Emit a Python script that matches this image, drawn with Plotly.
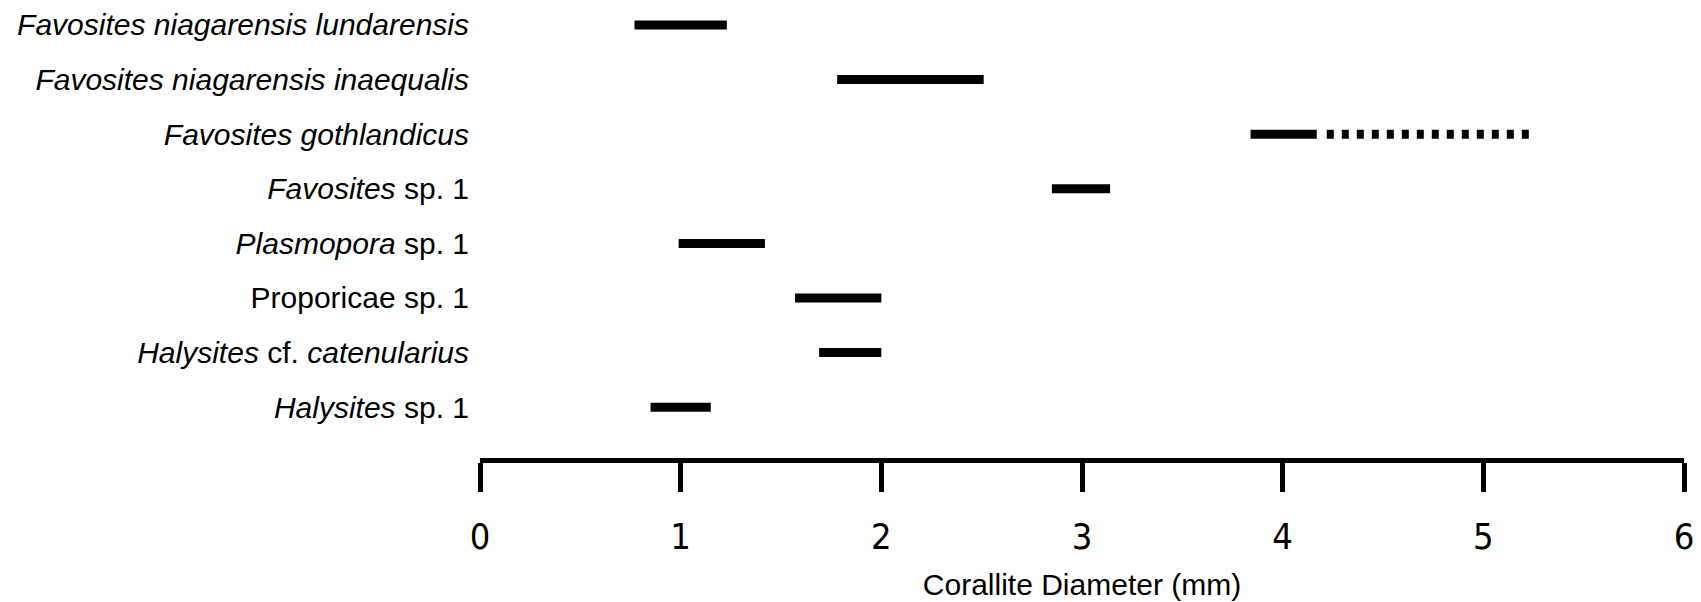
import plotly.graph_objects as go

# ---- data ----
species = [
    "Favosites niagarensis lundarensis",
    "Favosites niagarensis inaequalis",
    "Favosites gothlandicus",
    "Favosites sp. 1",
    "Plasmopora sp. 1",
    "Proporicae sp. 1",
    "Halysites cf. catenularius",
    "Halysites sp. 1",
]
species_labels = [
    "<i>Favosites niagarensis lundarensis</i>",
    "<i>Favosites niagarensis inaequalis</i>",
    "<i>Favosites gothlandicus</i>",
    "<i>Favosites</i> sp. 1",
    "<i>Plasmopora</i> sp. 1",
    "Proporicae sp. 1",
    "<i>Halysites</i> cf. <i>catenularius</i>",
    "<i>Halysites</i> sp. 1",
]
diam_min = [0.77, 1.78, 3.84, 2.85, 0.99, 1.57, 1.69, 0.85]
diam_max = [1.23, 2.51, 4.17, 3.14, 1.42, 2.00, 2.00, 1.15]
# uncertain extension (dotted) for Favosites gothlandicus
ext_species = ["Favosites gothlandicus"]
ext_min = [4.22]
ext_max = [5.23]
x_ticks = [0, 1, 2, 3, 4, 5, 6]
x_title = "Corallite Diameter (mm)"

# ---- build traces ----
xs, ys = [], []
for s, a, b in zip(species, diam_min, diam_max):
    xs += [a, b, None]
    ys += [s, s, None]

ex, ey = [], []
for s, a, b in zip(ext_species, ext_min, ext_max):
    ex += [a, b, None]
    ey += [s, s, None]

fig = go.Figure()
fig.add_trace(go.Scatter(x=xs, y=ys, mode="lines",
                         line=dict(color="black", width=9),
                         hoverinfo="skip", showlegend=False))
fig.add_trace(go.Scatter(x=ex, y=ey, mode="lines",
                         line=dict(color="black", width=9, dash="7px,8px"),
                         hoverinfo="skip", showlegend=False))

fig.update_layout(
    width=1701, height=602,
    margin=dict(l=480, r=17, t=5, b=142, pad=0),
    paper_bgcolor="white", plot_bgcolor="white",
    showlegend=False,
    font=dict(family="Liberation Sans, Arial, sans-serif", color="black"),
)
fig.update_xaxes(
    range=[0, 6], tickvals=x_ticks, ticktext=[str(v) for v in x_ticks],
    showline=True, linecolor="black", linewidth=5,
    ticks="outside", ticklen=29, tickwidth=5, tickcolor="black",
    showgrid=False, zeroline=False,
    tickfont=dict(family="Liberation Sans Narrow, Arial Narrow, DejaVu Sans Condensed, sans-serif",
                  size=36, color="black"),
    ticklabelstandoff=14,
    title=dict(text=x_title, font=dict(size=30, color="black"), standoff=19),
)
fig.update_yaxes(
    type="category", categoryorder="array", categoryarray=species,
    range=[7.93, -0.365],
    tickvals=species, ticktext=species_labels,
    showline=False, showgrid=False, zeroline=False, ticks="",
    tickfont=dict(size=30, color="black"),
    ticklabelstandoff=10,
)

fig.write_html("out.html")
